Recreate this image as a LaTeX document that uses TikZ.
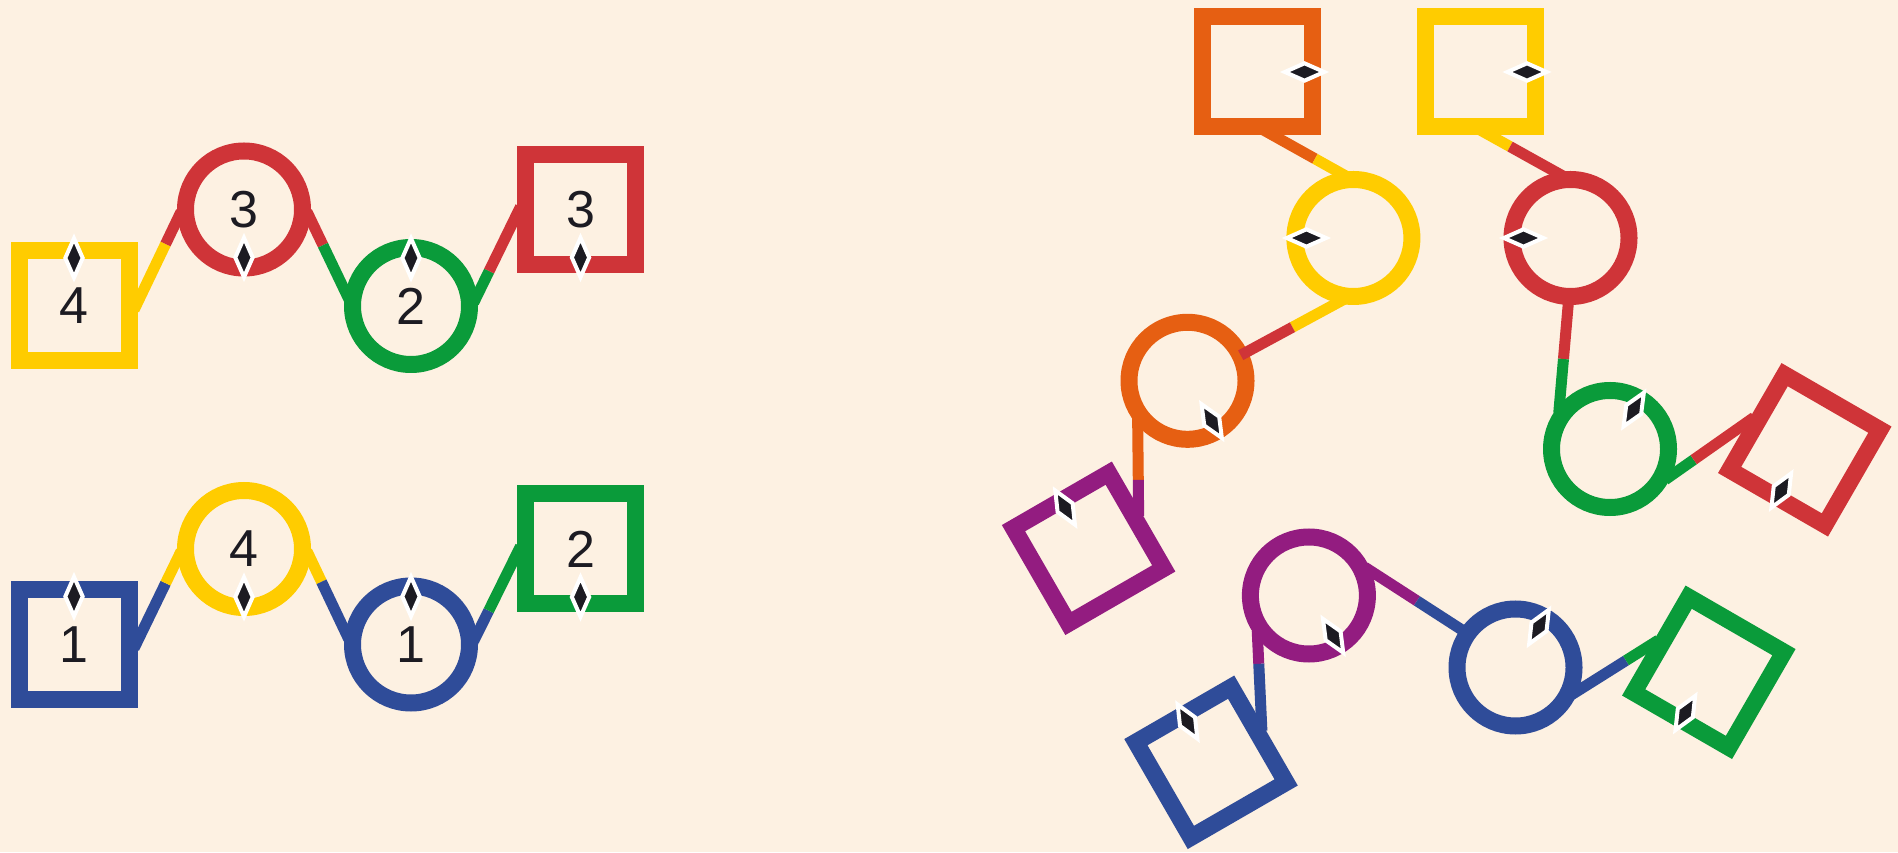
\documentclass[tikz,border=0pt]{standalone}
\usepackage{fontspec}
\setmainfont{Liberation Sans}
\usetikzlibrary{calc,shapes.geometric}
\definecolor{bg}{RGB}{253,241,226}
\definecolor{cred}{RGB}{207,52,56}
\definecolor{cyel}{RGB}{255,204,0}
\definecolor{cgrn}{RGB}{10,155,58}
\definecolor{cblu}{RGB}{47,76,153}
\definecolor{corg}{RGB}{230,95,18}
\definecolor{cpur}{RGB}{147,28,128}
\definecolor{cdia}{RGB}{28,27,34}
\tikzset{
  sq/.style={rectangle, draw=#1, line width=17pt, minimum size=110pt, inner sep=0pt, outer sep=8.5pt,
    font=\fontsize{52}{60}\selectfont, text=cdia},
  ci/.style={circle, draw=#1, line width=17pt, minimum size=117pt, inner sep=0pt, outer sep=8.5pt,
    font=\fontsize{52}{60}\selectfont, text=cdia},
  diam/.style={diamond, fill=cdia, draw=white, line width=4pt, minimum width=19pt, minimum height=41pt, inner sep=0pt},
  bondline/.style={line width=11pt, draw=#1},
}
% #1 start anchor, #2 end anchor, #3 split fraction, #4 start colour, #5 end colour, #6 start ext, #7 end ext
\newcommand\cnx[7]{%
  \draw[bondline=#4, shorten <=-#6] (#1) -- ($(#1)!#3!(#2)$);
  \draw[bondline=#5, shorten >=-#7] ($(#1)!#3!(#2)$) -- (#2);
}
\begin{document}
\begin{tikzpicture}[x=1pt,y=1pt]
\fill[bg] (0,0) rectangle (1898,852);
\useasboundingbox (0,0) rectangle (1898,852);

% ---------- left panel, row 1 ----------
\node[sq=cyel] (sqY1) at (74,546) {4};
\node[ci=cred] (ciR1) at (244,642.5) {3};
\node[ci=cgrn] (ciG1) at (411,546) {2};
\node[sq=cred] (sqR1) at (580.5,642.5) {3};
% ---------- left panel, row 2 ----------
\node[sq=cblu] (sqB2) at (74,207.5) {1};
\node[ci=cyel] (ciY2) at (244,303) {4};
\node[ci=cblu] (ciB2) at (411,207.5) {1};
\node[sq=cgrn] (sqG2) at (580.5,303) {2};

% ---------- right panel ----------
\node[sq=corg, rotate=90] (sqO) at (1257.5,780) {};
\node[sq=cyel, rotate=90] (sqYr) at (1480,780) {};
\node[ci=cyel] (ciYr) at (1353.4,614) {};
\node[ci=cred] (ciRr) at (1570.5,614) {};
\node[ci=corg] (ciO) at (1187.5,471.2) {};
\node[ci=cgrn] (ciGr) at (1610,403) {};
\node[sq=cred, rotate=-30] (sqRr) at (1804.75,402.2) {};
\node[sq=cpur, rotate=30] (sqPu) at (1088.6,303.7) {};
\node[ci=cpur] (ciPu) at (1308.9,256.5) {};
\node[ci=cblu] (ciBr) at (1515.5,184.5) {};
\node[sq=cgrn, rotate=-30] (sqGr) at (1708.8,179.7) {};
\node[sq=cblu, rotate=30] (sqBr) at (1211,89.7) {};

% ---------- connectors ----------
\cnx{sqY1.3}{ciR1.188}{0.70}{cyel}{cred}{8pt}{8pt}
\cnx{ciR1.352}{ciG1.168}{0.36}{cred}{cgrn}{8pt}{8pt}
\cnx{ciG1.9}{sqR1.184}{0.30}{cgrn}{cred}{8pt}{8pt}
\cnx{sqB2.3}{ciY2.188}{0.70}{cblu}{cyel}{8pt}{8pt}
\cnx{ciY2.352}{ciB2.169}{0.32}{cyel}{cblu}{8pt}{8pt}
\cnx{ciB2.9}{sqG2.184}{0.29}{cblu}{cgrn}{8pt}{8pt}

\cnx{sqO.194}{ciYr.102}{0.63}{corg}{cyel}{12pt}{8pt}
\cnx{ciYr.256}{ciO.26}{0.50}{cyel}{cred}{8pt}{8pt}
\cnx{ciO.222}{sqPu.9}{0.66}{corg}{cpur}{8pt}{8pt}
\cnx{sqYr.189}{ciRr.102}{0.30}{cyel}{cred}{12pt}{8pt}
\cnx{ciRr.268}{ciGr.139}{0.54}{cred}{cgrn}{8pt}{8pt}
\cnx{ciGr.337}{sqRr.184}{0.29}{cgrn}{cred}{8pt}{8pt}
\cnx{ciPu.21}{ciBr.145}{0.51}{cpur}{cblu}{8pt}{8pt}
\cnx{ciPu.220}{sqBr.8}{0.30}{cpur}{cblu}{8pt}{8pt}
\cnx{ciBr.340}{sqGr.184}{0.65}{cblu}{cgrn}{8pt}{8pt}

% ---------- diamonds ----------
\node[diam] (dY1) at ($(sqY1.center)+(0,48)$) {};
\node[diam] (dR1) at ($(ciR1.center)+(0,-48)$) {};
\node[diam] (dG1) at ($(ciG1.center)+(0,48)$) {};
\node[diam] (dRs1) at ($(sqR1.center)+(0,-48)$) {};
\node[diam] (dB2) at ($(sqB2.center)+(0,48)$) {};
\node[diam] (dY2) at ($(ciY2.center)+(0,-48)$) {};
\node[diam] (dBc2) at ($(ciB2.center)+(0,48)$) {};
\node[diam] (dG2) at ($(sqG2.center)+(0,-48)$) {};

\node[diam, rotate=90] (dO) at ($(sqO.center)+(0:47)$) {};
\node[diam, rotate=90] (dYr) at ($(sqYr.center)+(0:47)$) {};
\node[diam, rotate=90] (dYc) at ($(ciYr.center)+(180:47)$) {};
\node[diam, rotate=90] (dRc) at ($(ciRr.center)+(180:47)$) {};
\node[diam, rotate=31] (dOc) at ($(ciO.center)+(-59:47)$) {};
\node[diam, rotate=-31] (dGc) at ($(ciGr.center)+(59:46)$) {};
\node[diam, rotate=-30] (dRs) at ($(sqRr.center)+(-120:47)$) {};
\node[diam, rotate=30] (dPs) at ($(sqPu.center)+(120:47)$) {};
\node[diam, rotate=31] (dPc) at ($(ciPu.center)+(-59:47)$) {};
\node[diam, rotate=-30] (dBc) at ($(ciBr.center)+(60:47)$) {};
\node[diam, rotate=-30] (dGs) at ($(sqGr.center)+(-120:47)$) {};
\node[diam, rotate=30] (dBs) at ($(sqBr.center)+(120:47)$) {};
\end{tikzpicture}
\end{document}
